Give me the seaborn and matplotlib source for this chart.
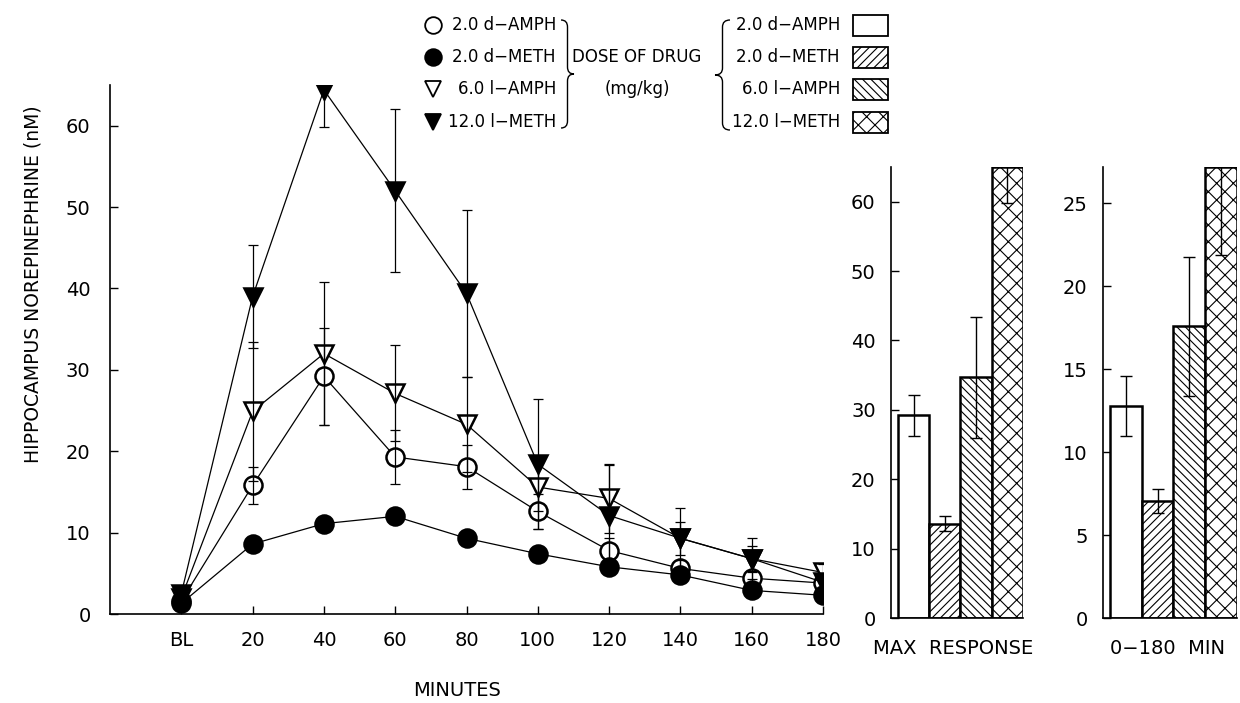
import matplotlib
matplotlib.use("Agg")
import matplotlib.pyplot as plt
from matplotlib.patches import Rectangle, PathPatch
from matplotlib.path import Path
import seaborn as sns

# time course, x = minutes after injection (BL = baseline)
minutes = [0, 20, 40, 60, 80, 100, 120, 140, 160, 180]
minute_labels = ["BL", "20", "40", "60", "80", "100", "120", "140", "160", "180"]

d_amph = [1.6, 15.8, 29.2, 19.3, 18.1, 12.6, 7.8, 5.6, 4.4, 3.8]
d_amph_err = [0.4, 2.3, 6.0, 3.3, 2.7, 2.1, 1.5, 1.0, 0.8, 0.5]
d_meth = [1.3, 8.6, 11.1, 12.0, 9.3, 7.4, 5.8, 4.8, 2.9, 2.3]
d_meth_err = [0.4, 0.6, 0.8, 1.0, 0.6, 0.9, 0.5, 0.5, 0.4, 0.4]
l_amph = [2.0, 24.9, 32.0, 27.1, 23.3, 15.6, 14.2, 9.3, 6.8, 5.1]
l_amph_err = [0.5, 8.5, 8.8, 5.9, 5.8, 3.0, 4.2, 2.0, 1.5, 1.0]
l_meth = [2.5, 39.0, 64.4, 52.0, 39.4, 18.4, 12.1, 9.3, 6.8, 3.9]
l_meth_err = [0.5, 6.3, 4.5, 10.0, 10.3, 8.0, 6.2, 3.7, 2.5, 1.0]

drugs = ["2.0 d\u2212AMPH", "2.0 d\u2212METH", "6.0 l\u2212AMPH", "12.0 l\u2212METH"]
max_resp = [29.2, 13.6, 34.7, 65.0]
max_resp_err = [3.0, 1.1, 8.7, 5.2]
total_resp = [12.8, 7.05, 17.6, 27.2]
total_resp_err = [1.8, 0.7, 4.2, 5.3]

markers = ["o", "o", "v", "v"]
faces = ["white", "black", "white", "black"]
hatches = ["", "////", "\\\\\\\\", "xx"]

sns.set_theme(style="ticks")
plt.rcParams["font.family"] = ["DejaVu Sans"]
plt.rcParams["hatch.linewidth"] = 0.8
plt.rcParams["text.color"] = "black"
plt.rcParams["axes.labelcolor"] = "black"

fig = plt.figure(figsize=(12.4, 7.03), dpi=100)
W, H = 1240, 703

def px_axes(x0, x1, ytop, ybot):
    return fig.add_axes([x0 / W, 1 - ybot / H, (x1 - x0) / W, (ybot - ytop) / H])

# main time-course panel
ax = px_axes(110, 823, 85, 614)
series = [(d_amph, d_amph_err), (d_meth, d_meth_err), (l_amph, l_amph_err), (l_meth, l_meth_err)]
for (vals, err), m, fc in zip(series, markers, faces):
    sns.lineplot(x=minutes, y=vals, ax=ax, color="black", linewidth=0.9,
                 marker=m, markersize=13, markerfacecolor=fc,
                 markeredgecolor="black", markeredgewidth=1.8)
    ax.errorbar(minutes, vals, yerr=err, fmt="none", ecolor="black",
                elinewidth=0.9, capsize=3.5, capthick=0.9, zorder=3)

ax.set_xlim(-20, 180)
ax.set_ylim(0, 65)
ax.set_xticks(minutes)
ax.set_xticklabels(minute_labels)
ax.set_yticks(range(0, 61, 10))
ax.tick_params(direction="in", length=6, width=1, labelsize=14, colors="black")
ax.tick_params(axis="x", pad=12)
ax.tick_params(axis="y", pad=14)
sns.despine(ax=ax)
for s in ax.spines.values():
    s.set_color("black")
    s.set_linewidth(1.2)
ax.set_xlabel("")
ax.set_ylabel("")

fig.text(33 / W, 1 - 284 / H, "HIPPOCAMPUS NOREPINEPHRINE (nM)", rotation=90,
         ha="center", va="center", fontsize=13.5)
fig.text(457 / W, 1 - 690 / H, "MINUTES", ha="center", va="center", fontsize=14)

# summary bar panels
def bar_panel(axb, vals, errs, top, ticks):
    sns.barplot(x=drugs, y=vals, ax=axb, color="white", edgecolor="black",
                linewidth=1.8, width=1.0, errorbar=None, saturation=1)
    for p, h in zip(axb.patches, hatches):
        p.set_hatch(h)
        p.set_facecolor("white")
    axb.errorbar(range(len(vals)), vals, yerr=errs, fmt="none", ecolor="black",
                 elinewidth=1.0, capsize=4, capthick=1.0, zorder=4)
    axb.set_xlim(-0.72, 3.5)
    axb.set_ylim(0, top)
    axb.set_yticks(ticks)
    axb.set_xticks([])
    axb.tick_params(direction="in", length=6, width=1, labelsize=14, pad=11, colors="black")
    sns.despine(ax=axb)
    for s in axb.spines.values():
        s.set_color("black")
        s.set_linewidth(1.2)
    axb.set_xlabel("")
    axb.set_ylabel("")

ax2 = px_axes(891, 1023, 167, 618)
bar_panel(ax2, max_resp, max_resp_err, 65, range(0, 61, 10))
ax3 = px_axes(1103, 1237, 167, 618)
bar_panel(ax3, total_resp, total_resp_err, 27.2, range(0, 26, 5))

fig.text(953 / W, 1 - 649 / H, "MAX  RESPONSE", ha="center", va="center", fontsize=14)
fig.text(1168 / W, 1 - 649 / H, "0\u2212180  MIN", ha="center", va="center", fontsize=14)

# legend drawn on a figure-wide overlay in pixel units
lg = fig.add_axes([0, 0, 1, 1])
lg.set_xlim(0, W)
lg.set_ylim(H, 0)
lg.axis("off")
lg.patch.set_alpha(0)

rows = [25, 57, 89, 122]

def brace(x, y0, y1, w):
    h = w / 2
    q = 7
    ym = (y0 + y1) / 2
    verts = [(x, y0), (x + h, y0), (x + h, y0 + q), (x + h, ym - q),
             (x + h, ym), (x + w, ym), (x + h, ym), (x + h, ym + q),
             (x + h, y1 - q), (x + h, y1), (x, y1)]
    codes = [Path.MOVETO, Path.CURVE3, Path.CURVE3, Path.LINETO,
             Path.CURVE3, Path.CURVE3, Path.CURVE3, Path.CURVE3,
             Path.LINETO, Path.CURVE3, Path.CURVE3]
    lg.add_patch(PathPatch(Path(verts, codes), fill=False, lw=1.0, color="black"))

for y, name, m, fc in zip(rows, drugs, markers, faces):
    lg.plot([433], [y], marker=m, markersize=12 if m == "o" else 11,
            markerfacecolor=fc, markeredgecolor="black", markeredgewidth=1.3)
    lg.text(556, y, name, ha="right", va="center", fontsize=12)

for y, name, h in zip(rows, drugs, hatches):
    lg.text(840, y, name, ha="right", va="center", fontsize=12)
    lg.add_patch(Rectangle((853, y - 10.5), 35, 21, facecolor="white",
                           edgecolor="black", lw=1.3, hatch=h))

brace(561, 20, 128, 13)
brace(730, 20, 130, -15)
lg.text(637, 57, "DOSE OF DRUG", ha="center", va="center", fontsize=12)
lg.text(637, 89, "(mg/kg)", ha="center", va="center", fontsize=12)

fig.savefig("out.png", dpi=100, facecolor="white")
